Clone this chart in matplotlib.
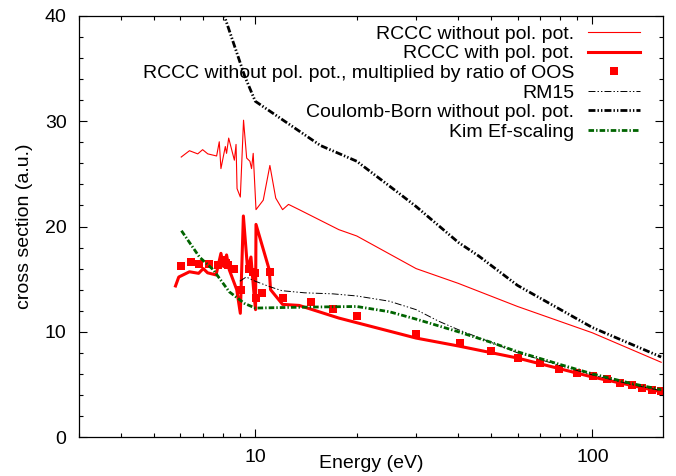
import matplotlib
matplotlib.use('Agg')
import matplotlib.pyplot as plt
from matplotlib.ticker import FixedLocator, NullFormatter, MultipleLocator

plt.rcParams['font.family'] = ['Liberation Sans', 'DejaVu Sans']
plt.rcParams['lines.scale_dashes'] = False

# RCCC without pol. pot.
e_nopol = [6.03, 6.38, 6.75, 6.98, 7.23, 7.68, 7.82, 7.91, 8.15, 8.22, 8.34, 8.67, 8.77,
           8.83, 9.03, 9.23, 9.43, 9.64, 9.75, 9.86, 10.05, 10.56, 11.05, 11.5, 12.05,
           12.55, 13.5, 17.7, 20, 30, 40, 60, 100, 160]
s_nopol = [26.6, 27.2, 26.9, 27.3, 26.9, 26.7, 28.05, 25.5, 27.6, 26.95, 28.4, 26.3, 27.8,
           23.6, 22.8, 30.1, 26.5, 26.2, 25.5, 26.95, 21.6, 22.5, 25.8, 22.7, 21.6,
           22.1, 21.6, 19.7, 19.1, 16.0, 14.6, 12.4, 9.9, 7.1]

# RCCC with pol. pot.
e_pol = [5.8, 5.93, 6.38, 6.79, 7.01, 7.22, 7.65, 7.91, 8.05, 8.22, 8.37, 8.81, 9.03,
         9.22, 9.49, 9.71, 9.93, 10.02, 10.05, 11.0, 11.1, 12.05, 13.5, 17.7, 30, 40,
         60, 100, 160]
s_pol = [14.35, 15.2, 15.7, 15.55, 16.0, 15.6, 15.4, 17.45, 16.2, 17.3, 15.9, 14.0, 11.75,
         21.0, 15.9, 17.1, 13.3, 12.1, 20.2, 15.9, 14.0, 12.6, 12.5, 11.3, 9.4, 8.65,
         7.5, 5.7, 4.3]

# RCCC without pol. pot., multiplied by ratio of OOS
e_oos = [6.03, 6.45, 6.8, 7.27, 7.73, 8.04, 8.19, 8.28, 8.67, 9.07, 9.55, 9.82, 10.0,
         10.05, 10.5, 11.05, 12.05, 14.6, 17.0, 20.1, 30, 40.4, 50.1, 60, 70, 79.5,
         90.3, 100.3, 110.5, 120.5, 130.8, 140, 150, 160]
s_oos = [16.25, 16.6, 16.4, 16.4, 16.3, 16.8, 16.5, 16.3, 16.0, 14.0, 16.0, 15.65, 15.55,
         13.2, 13.7, 15.7, 13.2, 12.8, 12.2, 11.5, 9.75, 8.9, 8.2, 7.55, 7.0, 6.5,
         6.1, 5.8, 5.5, 5.15, 4.95, 4.7, 4.5, 4.35]

# RM15
e_rm = [9.0, 9.4, 10, 11, 12, 14, 17, 20, 25, 30, 35, 40, 50, 60, 80, 100, 130, 160]
s_rm = [14.8, 15.2, 14.8, 14.3, 13.9, 13.7, 13.6, 13.4, 12.9, 12.1, 11.0, 10.2, 9.0,
        8.0, 6.8, 5.9, 5.0, 4.4]

# Coulomb-Born without pol. pot.
e_cb = [8.0, 9.3, 10, 15.6, 20, 26.7, 30, 40, 46, 60, 100, 160]
s_cb = [40.5, 34.3, 31.9, 27.7, 26.2, 23.15, 21.9, 18.5, 17.2, 14.4, 10.4, 7.6]

# Kim Ef-scaling
e_kim = [6.04, 6.83, 7.5, 8.37, 9.28, 10, 12, 15, 20, 25, 30, 40, 50, 60, 80, 100, 130, 160]
s_kim = [19.6, 17.1, 15.9, 13.8, 12.7, 12.25, 12.3, 12.35, 12.4, 11.9, 11.2, 10.0, 9.0,
         8.1, 6.9, 6.0, 5.1, 4.5]

fig = plt.figure(figsize=(6.76, 4.76), dpi=100)
ax = fig.add_axes([79/676, 39/476, 584/676, 421/476])

ax.plot(e_nopol, s_nopol, color='red', lw=0.8, label='RCCC without pol. pot.')
ax.plot(e_pol, s_pol, color='red', lw=2.2, label='RCCC with pol. pot.')
ax.plot(e_oos, s_oos, ls='none', marker='s', ms=6.3, mew=0, color='red',
        label='RCCC without pol. pot., multiplied by ratio of OOS')
ax.plot(e_rm, s_rm, color='black', lw=0.7, dashes=(5, 1.5, 1, 1.5, 1, 1.5), label='RM15')
ax.plot(e_cb, s_cb, color='black', lw=2.0, dashes=(5, 1.5, 1, 1.5, 1, 1.5),
        label='Coulomb-Born without pol. pot.')
ax.plot(e_kim, s_kim, color='#006400', lw=2.0, dashes=(4, 1.5, 1, 1.5),
        label='Kim Ef-scaling')

ax.set_xscale('log')
ax.set_xlim(3, 162)
ax.set_ylim(0, 40)
ax.xaxis.set_major_locator(FixedLocator([10, 100]))
ax.xaxis.set_minor_locator(FixedLocator([3, 4, 5, 6, 7, 8, 9, 20, 30, 40, 50, 60, 70, 80, 90]))
ax.xaxis.set_minor_formatter(NullFormatter())
ax.set_xticklabels(['10', '100'])
ax.yaxis.set_major_locator(MultipleLocator(10))
ax.yaxis.set_minor_locator(MultipleLocator(2))

ax.tick_params(which='both', direction='in', top=True, right=True, labelsize=14, width=0.8)
ax.tick_params(which='major', length=6, pad=9)
ax.tick_params(which='minor', length=3)
for sp in ax.spines.values():
    sp.set_linewidth(0.9)

ax.set_xlabel('Energy (eV)', fontsize=14)
ax.set_ylabel('cross section (a.u.)', fontsize=14)
ax.xaxis.set_label_coords(0.5, -0.043)
ax.yaxis.set_label_coords(-0.078, 0.5)

ax.legend(loc='upper right', bbox_to_anchor=(0.961, 0.978), frameon=False, fontsize=14,
          markerfirst=False, numpoints=1, handlelength=2.7, handletextpad=0.7,
          labelspacing=0.1, borderpad=0, borderaxespad=0)

fig.savefig('out.png', dpi=100)
